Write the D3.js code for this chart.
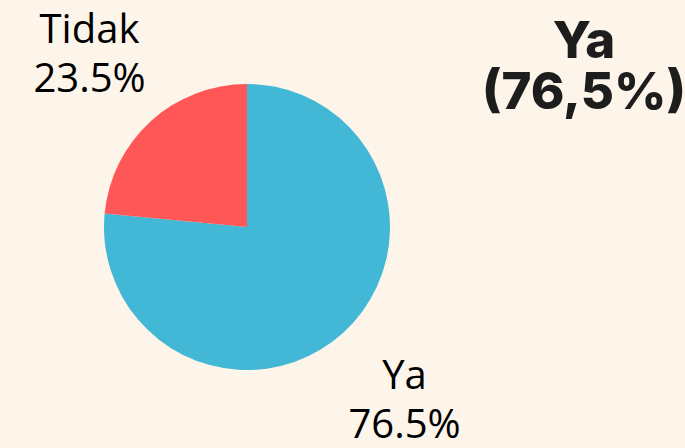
<!DOCTYPE html>
<html>
<head>
<meta charset="utf-8">
<script src="https://cdn.jsdelivr.net/npm/d3@7"></script>
<style>
  html, body { margin: 0; padding: 0; background: #fdf4ea; }
  svg { display: block; }
</style>
</head>
<body>
<svg width="685" height="448"></svg>
<script>
// данные
const categories = ["Ya", "Tidak"];
const values = [76.5, 23.5];
const colors = ["#42b7d6", "#ff5757"];

const svg = d3.select("svg");
const width = 685, height = 448;

// фон
svg.append("rect")
    .attr("width", width)
    .attr("height", height)
    .attr("fill", "#fdf4ea");

const cx = 247, cy = 227, radius = 143;

const data = categories.map((c, i) => ({ label: c, value: values[i] }));

const pie = d3.pie()
    .sort(null)
    .value(d => d.value);

const arc = d3.arc()
    .innerRadius(0)
    .outerRadius(radius);

const labelArc = d3.arc()
    .innerRadius(234)
    .outerRadius(234);

const g = svg.append("g")
    .attr("transform", `translate(${cx}, ${cy})`);

const arcs = pie(data);

g.selectAll("path")
    .data(arcs)
    .enter()
    .append("path")
    .attr("d", arc)
    .attr("fill", (d, i) => colors[i]);

// подписи сегментов
const labels = g.selectAll(".lbl")
    .data(arcs)
    .enter()
    .append("text")
    .attr("class", "lbl")
    .attr("transform", d => `translate(${labelArc.centroid(d)})`)
    .attr("text-anchor", "middle")
    .style("font-family", "'Open Sans', sans-serif")
    .style("font-size", "40px")
    .attr("fill", "#000");

labels.append("tspan")
    .attr("x", 0)
    .attr("y", -11)
    .text(d => d.data.label);

labels.append("tspan")
    .attr("x", 0)
    .attr("y", 38)
    .text(d => d.data.value.toFixed(1) + "%");

// заголовок справа
const main = data[0];
const title = svg.append("text")
    .attr("text-anchor", "middle")
    .attr("fill", "#1d1d1d")
    .style("font-family", "Inter, sans-serif")
    .style("font-weight", 800)
    .style("font-size", "51px");

title.append("tspan")
    .attr("x", 584)
    .attr("y", 58)
    .text(main.label);

title.append("tspan")
    .attr("x", 584)
    .attr("y", 109)
    .text("(" + main.value.toFixed(1).replace(".", ",") + "%)");
</script>
</body>
</html>
